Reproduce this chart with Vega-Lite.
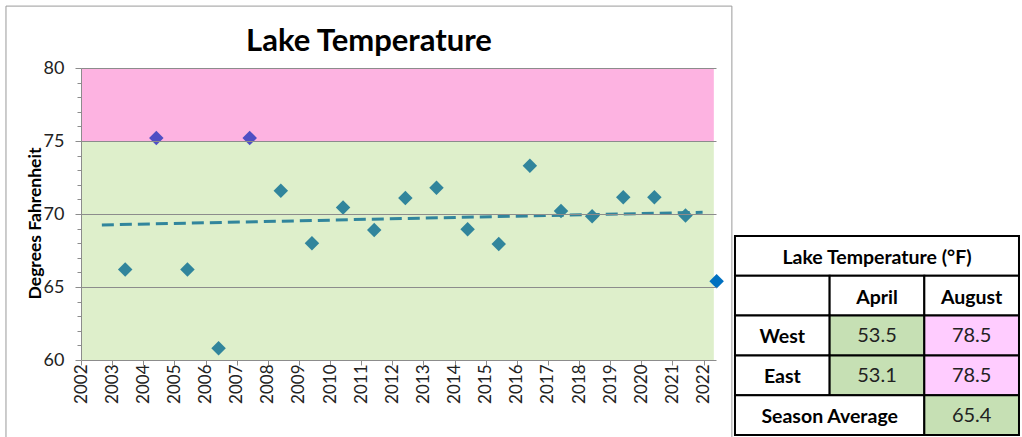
{
  "$schema": "https://vega.github.io/schema/vega-lite/v6.json",
  "width": 635,
  "height": 292,
  "autosize": {"type": "none"},
  "padding": {"left": 81, "top": 68, "right": 306, "bottom": 77},
  "background": "white",
  "config": {"view": {"stroke": null}, "font": "Lato"},
  "title": {"text": "Lake Temperature", "font": "Lato", "fontSize": 31, "fontWeight": "bold", "color": "#000000", "frame": "group", "anchor": "middle", "dx": -29.5, "dy": 52, "offset": 0},
  "layer": [
    {
      "layer": [
        {
          "data": {"values": [{"part": "frame"}]},
          "mark": {"type": "rect", "filled": false, "stroke": "#9a9a9a", "strokeWidth": 1},
          "encoding": {
            "x": {"datum": 1999.59, "type": "quantitative", "scale": {"domain": [2002, 2022.4], "nice": false, "zero": false},
              "axis": {"orient": "bottom", "values": [2002, 2003, 2004, 2005, 2006, 2007, 2008, 2009, 2010, 2011, 2012, 2013, 2014, 2015, 2016, 2017, 2018, 2019, 2020, 2021, 2022],
                "format": "d", "labelAngle": 270, "labelFont": "Lato", "labelFontSize": 17, "labelColor": "#222222", "labelPadding": -1,
                "tickSize": 5, "tickColor": "#8c8c8c", "domainColor": "#8c8c8c", "grid": false, "title": null,
                "labelOverlap": false, "labelBound": false, "labelFlush": false}},
            "x2": {"datum": 2022.91},
            "y": {"datum": 84.24, "type": "quantitative", "scale": {"domain": [60, 80], "nice": false, "zero": false},
              "axis": {"orient": "left", "values": [60, 61, 62, 63, 64, 65, 66, 67, 68, 69, 70, 71, 72, 73, 74, 75, 76, 77, 78, 79, 80],
                "labelExpr": "datum.value % 5 === 0 ? datum.label : ''",
                "labelFont": "Lato", "labelFontSize": 18, "labelColor": "#222222", "labelPadding": 11,
                "tickSize": {"condition": {"test": "datum.value % 5 === 0", "value": 6}, "value": 4},
                "tickColor": "#8c8c8c", "domainColor": "#8c8c8c",
                "grid": true, "gridColor": "#8c8c8c",
                "gridOpacity": {"condition": {"test": "datum.value % 5 === 0 && datum.value > 60", "value": 1}, "value": 0},
                "labelOverlap": false, "labelBound": false, "labelFlush": false, "zindex": 1,
                "title": "Degrees Fahrenheit", "titleFont": "Lato", "titleFontSize": 17.5, "titleFontWeight": "bold", "titleColor": "#000000",
                "titleAngle": 270, "titleX": -46, "titleY": 155, "titleAlign": "center", "titleBaseline": "middle"}},
            "y2": {"datum": 52}
          }
        },
        {
          "data": {"values": [{"zone": "warm", "lo": 75, "hi": 80}, {"zone": "cool", "lo": 60, "hi": 75}]},
          "mark": {"type": "rect"},
          "encoding": {
            "x": {"datum": 2002, "type": "quantitative", "scale": {"domain": [2002, 2022.4], "nice": false, "zero": false},
              "axis": {"orient": "bottom", "values": [2002, 2003, 2004, 2005, 2006, 2007, 2008, 2009, 2010, 2011, 2012, 2013, 2014, 2015, 2016, 2017, 2018, 2019, 2020, 2021, 2022],
                "format": "d", "labelAngle": 270, "labelFont": "Lato", "labelFontSize": 17, "labelColor": "#222222", "labelPadding": -1,
                "tickSize": 5, "tickColor": "#8c8c8c", "domainColor": "#8c8c8c", "grid": false, "title": null,
                "labelOverlap": false, "labelBound": false, "labelFlush": false}},
            "x2": {"datum": 2022.33},
            "y": {"field": "lo", "type": "quantitative", "scale": {"domain": [60, 80], "nice": false, "zero": false},
              "axis": {"orient": "left", "values": [60, 61, 62, 63, 64, 65, 66, 67, 68, 69, 70, 71, 72, 73, 74, 75, 76, 77, 78, 79, 80],
                "labelExpr": "datum.value % 5 === 0 ? datum.label : ''",
                "labelFont": "Lato", "labelFontSize": 18, "labelColor": "#222222", "labelPadding": 11,
                "tickSize": {"condition": {"test": "datum.value % 5 === 0", "value": 6}, "value": 4},
                "tickColor": "#8c8c8c", "domainColor": "#8c8c8c",
                "grid": true, "gridColor": "#8c8c8c",
                "gridOpacity": {"condition": {"test": "datum.value % 5 === 0 && datum.value > 60", "value": 1}, "value": 0},
                "labelOverlap": false, "labelBound": false, "labelFlush": false, "zindex": 1,
                "title": "Degrees Fahrenheit", "titleFont": "Lato", "titleFontSize": 17.5, "titleFontWeight": "bold", "titleColor": "#000000",
                "titleAngle": 270, "titleX": -46, "titleY": 155, "titleAlign": "center", "titleBaseline": "middle"}},
            "y2": {"field": "hi"},
            "fill": {"field": "zone", "type": "nominal", "scale": {"domain": ["warm", "cool"], "range": ["#FDB3E1", "#DEEFCB"]}, "legend": null}
          }
        },
        {
          "data": {"values": [
            {"year": 2003.42, "temp": 66.2, "group": "normal"},
            {"year": 2004.42, "temp": 75.2, "group": "high"},
            {"year": 2005.42, "temp": 66.2, "group": "normal"},
            {"year": 2006.42, "temp": 60.8, "group": "normal"},
            {"year": 2007.42, "temp": 75.2, "group": "high"},
            {"year": 2008.42, "temp": 71.6, "group": "normal"},
            {"year": 2009.42, "temp": 68.0, "group": "normal"},
            {"year": 2010.42, "temp": 70.45, "group": "normal"},
            {"year": 2011.42, "temp": 68.9, "group": "normal"},
            {"year": 2012.42, "temp": 71.1, "group": "normal"},
            {"year": 2013.42, "temp": 71.8, "group": "normal"},
            {"year": 2014.42, "temp": 68.95, "group": "normal"},
            {"year": 2015.42, "temp": 67.95, "group": "normal"},
            {"year": 2016.42, "temp": 73.3, "group": "normal"},
            {"year": 2017.42, "temp": 70.2, "group": "normal"},
            {"year": 2018.42, "temp": 69.85, "group": "normal"},
            {"year": 2019.42, "temp": 71.15, "group": "normal"},
            {"year": 2020.42, "temp": 71.15, "group": "normal"},
            {"year": 2021.42, "temp": 69.9, "group": "normal"},
            {"year": 2022.42, "temp": 65.4, "group": "latest"}
          ]},
          "mark": {"type": "point", "shape": "diamond", "filled": true, "size": 210, "opacity": 1},
          "encoding": {
            "x": {"field": "year", "type": "quantitative", "scale": {"domain": [2002, 2022.4], "nice": false, "zero": false},
              "axis": {"orient": "bottom", "values": [2002, 2003, 2004, 2005, 2006, 2007, 2008, 2009, 2010, 2011, 2012, 2013, 2014, 2015, 2016, 2017, 2018, 2019, 2020, 2021, 2022],
                "format": "d", "labelAngle": 270, "labelFont": "Lato", "labelFontSize": 17, "labelColor": "#222222", "labelPadding": -1,
                "tickSize": 5, "tickColor": "#8c8c8c", "domainColor": "#8c8c8c", "grid": false, "title": null,
                "labelOverlap": false, "labelBound": false, "labelFlush": false}},
            "y": {"field": "temp", "type": "quantitative", "scale": {"domain": [60, 80], "nice": false, "zero": false},
              "axis": {"orient": "left", "values": [60, 61, 62, 63, 64, 65, 66, 67, 68, 69, 70, 71, 72, 73, 74, 75, 76, 77, 78, 79, 80],
                "labelExpr": "datum.value % 5 === 0 ? datum.label : ''",
                "labelFont": "Lato", "labelFontSize": 18, "labelColor": "#222222", "labelPadding": 11,
                "tickSize": {"condition": {"test": "datum.value % 5 === 0", "value": 6}, "value": 4},
                "tickColor": "#8c8c8c", "domainColor": "#8c8c8c",
                "grid": true, "gridColor": "#8c8c8c",
                "gridOpacity": {"condition": {"test": "datum.value % 5 === 0 && datum.value > 60", "value": 1}, "value": 0},
                "labelOverlap": false, "labelBound": false, "labelFlush": false, "zindex": 1,
                "title": "Degrees Fahrenheit", "titleFont": "Lato", "titleFontSize": 17.5, "titleFontWeight": "bold", "titleColor": "#000000",
                "titleAngle": 270, "titleX": -46, "titleY": 155, "titleAlign": "center", "titleBaseline": "middle"}},
            "color": {"field": "group", "type": "nominal", "scale": {"domain": ["normal", "high", "latest"], "range": ["#31859C", "#4F4FC4", "#0070C0"]}, "legend": null}
          }
        },
        {
          "data": {"values": [{"year": 2002.67, "trend": 69.25}, {"year": 2021.97, "trend": 70.12}]},
          "mark": {"type": "line", "color": "#31859C", "strokeWidth": 3, "strokeDash": [12, 6]},
          "encoding": {
            "x": {"field": "year", "type": "quantitative", "scale": {"domain": [2002, 2022.4], "nice": false, "zero": false},
              "axis": {"orient": "bottom", "values": [2002, 2003, 2004, 2005, 2006, 2007, 2008, 2009, 2010, 2011, 2012, 2013, 2014, 2015, 2016, 2017, 2018, 2019, 2020, 2021, 2022],
                "format": "d", "labelAngle": 270, "labelFont": "Lato", "labelFontSize": 17, "labelColor": "#222222", "labelPadding": -1,
                "tickSize": 5, "tickColor": "#8c8c8c", "domainColor": "#8c8c8c", "grid": false, "title": null,
                "labelOverlap": false, "labelBound": false, "labelFlush": false}},
            "y": {"field": "trend", "type": "quantitative", "scale": {"domain": [60, 80], "nice": false, "zero": false},
              "axis": {"orient": "left", "values": [60, 61, 62, 63, 64, 65, 66, 67, 68, 69, 70, 71, 72, 73, 74, 75, 76, 77, 78, 79, 80],
                "labelExpr": "datum.value % 5 === 0 ? datum.label : ''",
                "labelFont": "Lato", "labelFontSize": 18, "labelColor": "#222222", "labelPadding": 11,
                "tickSize": {"condition": {"test": "datum.value % 5 === 0", "value": 6}, "value": 4},
                "tickColor": "#8c8c8c", "domainColor": "#8c8c8c",
                "grid": true, "gridColor": "#8c8c8c",
                "gridOpacity": {"condition": {"test": "datum.value % 5 === 0 && datum.value > 60", "value": 1}, "value": 0},
                "labelOverlap": false, "labelBound": false, "labelFlush": false, "zindex": 1,
                "title": "Degrees Fahrenheit", "titleFont": "Lato", "titleFontSize": 17.5, "titleFontWeight": "bold", "titleColor": "#000000",
                "titleAngle": 270, "titleX": -46, "titleY": 155, "titleAlign": "center", "titleBaseline": "middle"}}
          }
        }
      ]
    },
    {
      "data": {"values": [
        {"col": 0, "colEnd": 3, "row": 0, "rowEnd": 1, "label": "Lake Temperature (°F)", "kind": "label"},
        {"col": 0, "colEnd": 1, "row": 1, "rowEnd": 2, "label": "", "kind": "label"},
        {"col": 1, "colEnd": 2, "row": 1, "rowEnd": 2, "label": "April", "kind": "label"},
        {"col": 2, "colEnd": 3, "row": 1, "rowEnd": 2, "label": "August", "kind": "label"},
        {"col": 0, "colEnd": 1, "row": 2, "rowEnd": 3, "label": "West", "kind": "label"},
        {"col": 1, "colEnd": 2, "row": 2, "rowEnd": 3, "label": "53.5", "kind": "cool"},
        {"col": 2, "colEnd": 3, "row": 2, "rowEnd": 3, "label": "78.5", "kind": "warm"},
        {"col": 0, "colEnd": 1, "row": 3, "rowEnd": 4, "label": "East", "kind": "label"},
        {"col": 1, "colEnd": 2, "row": 3, "rowEnd": 4, "label": "53.1", "kind": "cool"},
        {"col": 2, "colEnd": 3, "row": 3, "rowEnd": 4, "label": "78.5", "kind": "warm"},
        {"col": 0, "colEnd": 2, "row": 4, "rowEnd": 5, "label": "Season Average", "kind": "label"},
        {"col": 2, "colEnd": 3, "row": 4, "rowEnd": 5, "label": "65.4", "kind": "cool"}
      ]},
      "transform": [
        {"calculate": "(datum.col + datum.colEnd) / 2", "as": "colMid"},
        {"calculate": "(datum.row + datum.rowEnd) / 2", "as": "rowMid"}
      ],
      "layer": [
        {
          "mark": {"type": "rect", "stroke": "#000000", "strokeWidth": 2},
          "encoding": {
            "x": {"field": "col", "type": "quantitative", "scale": {"domain": [-6.908, -0.2005], "nice": false, "zero": false}, "axis": null},
            "x2": {"field": "colEnd"},
            "y": {"field": "row", "type": "quantitative", "scale": {"domain": [-4.221, 3.116], "reverse": true, "nice": false, "zero": false}, "axis": null},
            "y2": {"field": "rowEnd"},
            "fill": {"field": "kind", "type": "nominal", "scale": {"domain": ["label", "cool", "warm"], "range": ["#FFFFFF", "#C6E0B4", "#FFCCFF"]}, "legend": null}
          }
        },
        {
          "transform": [{"filter": "datum.kind === 'label'"}],
          "mark": {"type": "text", "font": "Lato", "fontSize": 19.5, "fontWeight": "bold", "color": "#000000", "baseline": "middle", "align": "center", "dy": 2},
          "encoding": {
            "x": {"field": "colMid", "type": "quantitative", "axis": null},
            "y": {"field": "rowMid", "type": "quantitative", "axis": null},
            "text": {"field": "label"}
          }
        },
        {
          "transform": [{"filter": "datum.kind !== 'label'"}],
          "mark": {"type": "text", "font": "Lato", "fontSize": 20, "fontWeight": "normal", "color": "#222222", "baseline": "middle", "align": "center", "dy": 1},
          "encoding": {
            "x": {"field": "colMid", "type": "quantitative", "axis": null},
            "y": {"field": "rowMid", "type": "quantitative", "axis": null},
            "text": {"field": "label"}
          }
        }
      ]
    }
  ],
  "resolve": {"scale": {"x": "independent", "y": "independent", "fill": "independent"}}
}
